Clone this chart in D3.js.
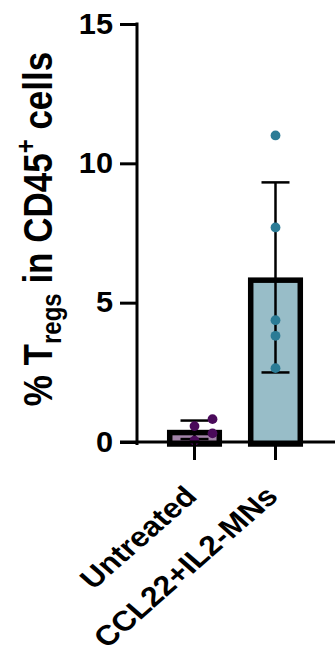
<!DOCTYPE html>
<html>
<head>
<meta charset="utf-8">
<script src="https://cdn.jsdelivr.net/npm/d3@7"></script>
<style>
  body { margin: 0; background: #fff; }
  svg { display: block; }
</style>
</head>
<body>
<div id="chart"></div>
<script>
// data
const categories = ['Untreated', 'CCL22+IL2-MNs'];
const untreatedValues = [0.82, 0.57, 0.31, 0.05];
const ccl22Values = [11.0, 7.7, 4.37, 3.81, 2.65];
const yTicks = [0, 5, 10, 15];

const groups = [untreatedValues, ccl22Values];
const fills = ['#a283a8', '#98bdc8'];
const dotColors = ['#4a0a5a', '#2b7b95'];

const width = 336, height = 658;
const margin = { t: 24, l: 137, r: 3 };
const y0px = 442;
const font = "'Liberation Sans', Arial, sans-serif";
// the source figure is slightly wider than tall, so text is stretched a bit in x
const textStretch = 1.14;

const svg = d3.select('#chart').append('svg')
  .attr('width', width)
  .attr('height', height);

const y = d3.scaleLinear().domain([0, 15]).range([y0px, margin.t]);
const x = d3.scaleBand()
  .domain(categories)
  .range([margin.l, width - margin.r])
  .paddingInner(0.32)
  .paddingOuter(0.37);

const stats = groups.map((vals) => ({
  mean: d3.mean(vals),
  sd: d3.deviation(vals)
}));

// bars (stroke drawn inside the bar outline)
const barSw = 5.5;
const barArea = svg.append('g').attr('class', 'bars');
categories.forEach((c, i) => {
  const top = y(stats[i].mean);
  barArea.append('rect')
    .attr('x', x(c) + barSw / 2)
    .attr('y', top + barSw / 2)
    .attr('width', x.bandwidth() - barSw)
    .attr('height', y0px + 2 - top - barSw / 2)
    .attr('fill', fills[i])
    .attr('stroke', '#000')
    .attr('stroke-width', barSw);
});

// error bars, mean +/- SD
const capW = 28;
const errArea = svg.append('g').attr('class', 'errors');
categories.forEach((c, i) => {
  const cx = x(c) + x.bandwidth() / 2;
  const hi = y(stats[i].mean + stats[i].sd);
  const lo = y(Math.max(0, stats[i].mean - stats[i].sd));
  errArea.append('line')
    .attr('x1', cx).attr('x2', cx)
    .attr('y1', hi).attr('y2', lo)
    .attr('stroke', '#000').attr('stroke-width', 2.5);
  [hi, lo].forEach((yy) => {
    errArea.append('line')
      .attr('x1', cx - capW / 2).attr('x2', cx + capW / 2)
      .attr('y1', yy).attr('y2', yy)
      .attr('stroke', '#000').attr('stroke-width', 2.5);
  });
});

// points, nudged sideways when they would overlap
const r = 4.9, step = 9, minDist = 12;
const dotArea = svg.append('g').attr('class', 'dots');
categories.forEach((c, i) => {
  const cx = x(c) + x.bandwidth() / 2;
  const placed = [];
  groups[i].slice().sort((a, b) => a - b).forEach((v) => {
    const py = y(v);
    const offsets = [0, step, -step, 2 * step, -2 * step];
    let px = cx;
    for (const o of offsets) {
      const hit = placed.some((p) => Math.hypot(p[0] - (cx + o), p[1] - py) < minDist);
      if (!hit) { px = cx + o; break; }
    }
    placed.push([px, py]);
  });
  dotArea.selectAll(null)
    .data(placed)
    .join('circle')
    .attr('cx', (d) => d[0])
    .attr('cy', (d) => d[1])
    .attr('r', r)
    .attr('fill', dotColors[i]);
});

// x axis line runs past the y axis
svg.append('line')
  .attr('x1', 120).attr('x2', width - 1)
  .attr('y1', y0px).attr('y2', y0px)
  .attr('stroke', '#000').attr('stroke-width', 3);

const xAxis = svg.append('g')
  .attr('transform', `translate(0,${y0px})`)
  .call(d3.axisBottom(x).tickSize(18).tickSizeOuter(0));
xAxis.select('.domain').remove();
xAxis.selectAll('.tick line').attr('stroke', '#000').attr('stroke-width', 3);
xAxis.selectAll('.tick text')
  .attr('fill', '#000')
  .attr('font-family', font)
  .attr('font-weight', 'bold')
  .attr('font-size', 28)
  .attr('text-anchor', 'end')
  .attr('dy', null)
  .attr('y', null)
  .attr('transform', `translate(4,56) scale(${textStretch},1) rotate(-45)`);

// y axis
svg.append('line')
  .attr('x1', margin.l).attr('x2', margin.l)
  .attr('y1', margin.t - 1.5).attr('y2', y0px + 3)
  .attr('stroke', '#000').attr('stroke-width', 3);

const yAxis = svg.append('g')
  .attr('transform', `translate(${margin.l},0)`)
  .call(d3.axisLeft(y).tickValues(yTicks).tickSize(17).tickPadding(7).tickSizeOuter(0));
yAxis.select('.domain').remove();
yAxis.selectAll('.tick line').attr('stroke', '#000').attr('stroke-width', 3);
yAxis.selectAll('.tick text')
  .attr('fill', '#000')
  .attr('font-family', font)
  .attr('font-weight', 'bold')
  .attr('font-size', 29)
  .attr('x', null)
  .attr('transform', 'translate(-24,0) scale(1.06,1)');

// y axis title
const title = svg.append('text')
  .attr('transform', `translate(52,229) scale(${textStretch + 0.04},1) rotate(-90)`)
  .attr('text-anchor', 'middle')
  .attr('font-family', font)
  .attr('font-weight', 'bold')
  .attr('font-size', 35)
  .attr('fill', '#000');
title.append('tspan').text('% T');
title.append('tspan').attr('font-size', 24).attr('dy', 8).text('regs');
title.append('tspan').attr('dy', -8).text(' in CD45');
title.append('tspan').attr('font-size', 24).attr('dy', -14).text('+');
title.append('tspan').attr('dy', 14).text(' cells');
</script>
</body>
</html>
